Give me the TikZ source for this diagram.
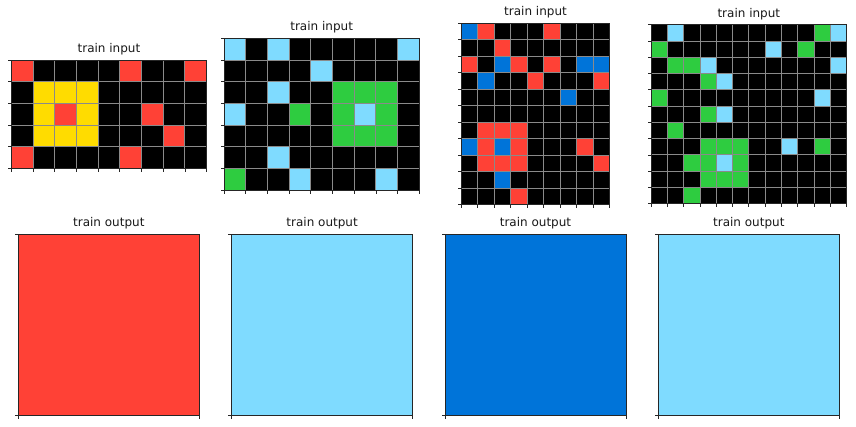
\documentclass[tikz,border=0pt]{standalone}
\usepackage{fontspec}
\setmainfont{DejaVu Sans}
\definecolor{cK}{HTML}{000000}
\definecolor{cR}{HTML}{FF4136}
\definecolor{cY}{HTML}{FFDC00}
\definecolor{cB}{HTML}{7FDBFF}
\definecolor{cG}{HTML}{2ECC40}
\definecolor{cD}{HTML}{0074D9}
\definecolor{gline}{HTML}{8A8A8A}
\tikzset{
  gridline/.style={draw=gline, line width=0.9pt},
  spine/.style={draw=black!85, line width=0.8pt},
  tick/.style={draw=black!85, line width=0.8pt},
  ttl/.style={font=\fontsize{12}{14}\selectfont, text=black!90, inner sep=0pt, anchor=south}
}
% #1 x0, #2 y0, #3 cell, #4 cols, #5 rows, #6 data, #7 name
\newcommand{\arcgrid}[7]{%
  \begin{scope}[shift={(#1,#2)}, x=#3pt, y=-#3pt]
    \foreach \row [count=\j from 0] in {#6} {
      \foreach \c [count=\i from 0] in \row {
        \fill[c\c] (\i,\j) rectangle ++(1,1);
      }
    }
    \foreach \i in {0,...,#4} \draw[gridline] (\i,0) -- (\i,#5);
    \foreach \j in {0,...,#5} \draw[gridline] (0,\j) -- (#4,\j);
    \draw[spine] (0,0) rectangle (#4,#5);
    \foreach \i in {0,...,#4} \draw[tick] (\i,#5) -- ++(0,-3.5pt);
    \foreach \j in {0,...,#5} \draw[tick] (0,\j) -- ++(-3.5pt,0);
    \node[ttl] (#7) at (#4/2,0) [yshift=5pt] {train input};
  \end{scope}%
}
\newcommand{\arcout}[4]{%
  \begin{scope}[shift={(#1,234.3)}]
    \fill[#2] (0,0) rectangle (181,181);
    \draw[spine] (0,0) rectangle (181,181);
    \draw[tick] (0,181) -- ++(0,-3.5pt);
    \draw[tick] (181,181) -- ++(0,-3.5pt);
    \draw[tick] (0,0) -- ++(-3.5pt,0);
    \draw[tick] (0,181) -- ++(-3.5pt,0);
    \node[ttl] (#3) at (90.5,0) [yshift=5pt] {#4};
  \end{scope}%
}
\begin{document}
\begin{tikzpicture}[x=1pt, y=-1pt]
\useasboundingbox[fill=white] (0,0) rectangle (856,426);
\arcgrid{11.3}{60}{21.7}{9}{5}{
 {R,K,K,K,K,R,K,K,R},
 {K,Y,Y,Y,K,K,K,K,K},
 {K,Y,R,Y,K,K,R,K,K},
 {K,Y,Y,Y,K,K,K,R,K},
 {R,K,K,K,K,R,K,K,K}}{t1}
\arcgrid{224}{38.3}{21.7}{9}{7}{
 {B,K,B,K,K,K,K,K,B},
 {K,K,K,K,B,K,K,K,K},
 {K,K,B,K,K,G,G,G,K},
 {B,K,K,G,K,G,B,G,K},
 {K,K,K,K,K,G,G,G,K},
 {K,K,B,K,K,K,K,K,K},
 {G,K,K,B,K,K,K,B,K}}{t2}
\arcgrid{461.25}{23.3}{16.5}{9}{11}{
 {D,R,K,K,K,R,K,K,K},
 {K,K,R,K,K,K,K,K,K},
 {R,K,D,R,K,R,K,D,D},
 {K,D,K,K,R,K,K,K,R},
 {K,K,K,K,K,K,D,K,K},
 {K,K,K,K,K,K,K,K,K},
 {K,R,R,R,K,K,K,K,K},
 {D,R,D,R,K,K,K,R,K},
 {K,R,R,R,K,K,K,K,R},
 {K,K,D,K,K,K,K,K,K},
 {K,K,K,R,K,K,K,K,K}}{t3}
\arcgrid{651.15}{24.7}{16.28}{12}{11}{
 {K,B,K,K,K,K,K,K,K,K,G,B},
 {G,K,K,K,K,K,K,B,K,G,K,K},
 {K,G,G,B,K,K,K,K,K,K,K,B},
 {K,K,K,G,B,K,K,K,K,K,K,K},
 {G,K,K,K,K,K,K,K,K,K,B,K},
 {K,K,K,G,B,K,K,K,K,K,K,K},
 {K,G,K,K,K,K,K,K,K,K,K,K},
 {K,K,K,G,G,G,K,K,B,K,G,K},
 {K,K,G,G,B,G,K,K,K,K,K,K},
 {K,K,K,G,G,G,K,K,K,K,K,K},
 {K,K,G,K,K,K,K,K,K,K,K,K}}{t4}
\arcout{18.3}{cR}{o1}{train output}
\arcout{231.6}{cB}{o2}{train output}
\arcout{445}{cD}{o3}{train output}
\arcout{658.3}{cB}{o4}{train output}
\end{tikzpicture}
\end{document}
